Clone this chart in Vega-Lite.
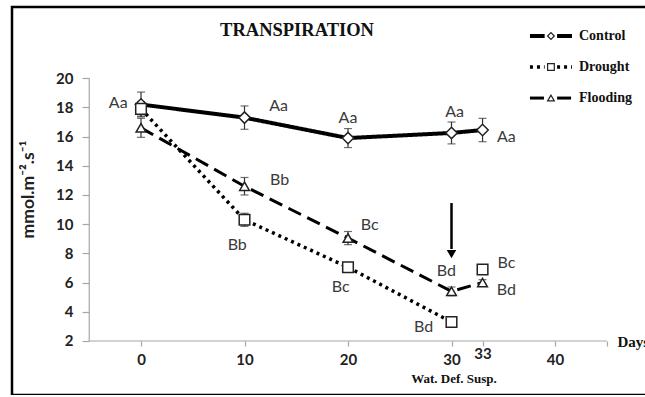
{
  "$schema": "https://vega.github.io/schema/vega-lite/v6.json",
  "width": 640,
  "height": 388,
  "autosize": {"type": "none"},
  "padding": {"left": 12, "top": 7, "right": 0, "bottom": 0},
  "background": "white",
  "config": {"view": {"stroke": "black", "strokeWidth": 2.5}},
  "title": {"text": "TRANSPIRATION", "font": "Liberation Serif", "fontWeight": "bold", "fontSize": 18.5, "color": "#111", "anchor": "middle", "baseline": "alphabetic", "offset": 0, "dx": -35, "dy": 47},
  "datasets": {
    "points": [
      {"series": "Control", "day": 0, "value": 18.2, "lo": 17.35, "hi": 19.05},
      {"series": "Control", "day": 10, "value": 17.3, "lo": 16.5, "hi": 18.1},
      {"series": "Control", "day": 20, "value": 15.9, "lo": 15.25, "hi": 16.55},
      {"series": "Control", "day": 30, "value": 16.25, "lo": 15.5, "hi": 17.0},
      {"series": "Control", "day": 33, "value": 16.45, "lo": 15.65, "hi": 17.25},
      {"series": "Drought", "day": 0, "value": 17.9, "lo": 17.4, "hi": 18.4},
      {"series": "Drought", "day": 10, "value": 10.3, "lo": 9.85, "hi": 10.75},
      {"series": "Drought", "day": 20, "value": 7.05, "lo": 6.85, "hi": 7.25},
      {"series": "Drought", "day": 30, "value": 3.3, "lo": 3.15, "hi": 3.45},
      {"series": "Drought", "day": 33, "value": 6.9, "lo": 6.8, "hi": 7.0},
      {"series": "Flooding", "day": 0, "value": 16.6, "lo": 15.95, "hi": 17.25},
      {"series": "Flooding", "day": 10, "value": 12.6, "lo": 12.0, "hi": 13.2},
      {"series": "Flooding", "day": 20, "value": 9.05, "lo": 8.6, "hi": 9.5},
      {"series": "Flooding", "day": 30, "value": 5.4, "lo": 5.1, "hi": 5.7},
      {"series": "Flooding", "day": 33, "value": 6.0, "lo": 5.8, "hi": 6.2}
    ],
    "labels": [
      {"text": "Aa", "day": -2.2, "value": 18.3},
      {"text": "Aa", "day": 13.3, "value": 18.1},
      {"text": "Aa", "day": 20, "value": 17.3},
      {"text": "Aa", "day": 30.3, "value": 17.7},
      {"text": "Aa", "day": 35.3, "value": 16.0},
      {"text": "Bb", "day": 9.3, "value": 8.6},
      {"text": "Bb", "day": 13.4, "value": 13.0},
      {"text": "Bc", "day": 22.1, "value": 9.95},
      {"text": "Bc", "day": 19.3, "value": 5.7},
      {"text": "Bd", "day": 29.5, "value": 6.8},
      {"text": "Bd", "day": 27.3, "value": 2.96},
      {"text": "Bc", "day": 35.3, "value": 7.35},
      {"text": "Bd", "day": 35.3, "value": 5.5}
    ],
    "axes": [
      {"day": -5, "value": 2, "day2": 45, "value2": 2},
      {"day": -5, "value": 2, "day2": -5, "value2": 20}
    ],
    "arrow": [{"day": 30, "value": 11.45, "value2": 8.3, "head": 7.95}],
    "legendLines": [
      {"series": "Control", "day": 37.58, "day2": 39.0, "value": 22.89},
      {"series": "Control", "day": 40.2, "day2": 41.64, "value": 22.89},
      {"series": "Drought", "day": 37.58, "day2": 39.0, "value": 20.77},
      {"series": "Drought", "day": 40.2, "day2": 41.64, "value": 20.77},
      {"series": "Flooding", "day": 37.58, "day2": 39.0, "value": 18.64},
      {"series": "Flooding", "day": 40.2, "day2": 41.64, "value": 18.64}
    ],
    "legendItems": [
      {"series": "Control", "day": 39.61, "tx": 42.32, "value": 22.89},
      {"series": "Drought", "day": 39.61, "tx": 42.32, "value": 20.77},
      {"series": "Flooding", "day": 39.61, "tx": 42.32, "value": 18.64}
    ],
    "notes": [{"text": "Wat. Def. Susp.", "day": 30.24, "value": -0.6}]
  },
  "layer": [
    {
      "data": {"name": "axes"},
      "mark": {"type": "rule", "color": "#a6a6a6", "strokeWidth": 1.2},
      "encoding": {
        "x": {"field": "day", "type": "quantitative",
          "scale": {"domain": [-12.464, 49.372], "nice": false, "zero": false},
          "axis": {"values": [0, 10, 20, 30, 33, 40, 45], "labelExpr": "datum.value === 45 ? '' : datum.label", "domain": false, "grid": false, "offset": -54, "tickSize": 5, "tickColor": "#a6a6a6", "tickWidth": 1.2,
            "labelPadding": {"condition": {"test": "datum.value === 33", "value": 0}, "value": 6},
            "labelFont": "Lato", "labelFontWeight": "bold", "labelFontSize": 15, "labelColor": "#222",
            "title": "Days", "titleFont": "Liberation Serif", "titleFontWeight": "bold", "titleFontSize": 15, "titleColor": "#111", "titleX": 605, "titleY": 0, "titleAlign": "left", "titleBaseline": "middle"}},
        "x2": {"field": "day2"},
        "y": {"field": "value", "type": "quantitative",
          "scale": {"domain": [-1.699, 24.877], "nice": false, "zero": false},
          "axis": {"values": [2, 4, 6, 8, 10, 12, 14, 16, 18, 20], "domain": false, "grid": false, "offset": -77, "tickSize": 7, "tickColor": "#a6a6a6", "tickWidth": 1.2, "labelPadding": 9,
            "labelFont": "Lato", "labelFontWeight": "bold", "labelFontSize": 15, "labelColor": "#222",
            "title": "mmol.m⁻².s⁻¹", "titleFont": "Lato", "titleFontWeight": "bold", "titleFontSize": 17.5, "titleColor": "#222", "titleX": -61, "titleY": 182, "titleAngle": -90, "titleAlign": "center", "titleBaseline": "middle"}},
        "y2": {"field": "value2"}
      }
    },
    {
      "data": {"name": "points"},
      "transform": [{"filter": "!(datum.series === 'Drought' && datum.day === 33)"}],
      "mark": {"type": "line", "color": "black", "strokeCap": "butt"},
      "encoding": {
        "x": {"field": "day", "type": "quantitative"},
        "y": {"field": "value", "type": "quantitative"},
        "strokeDash": {"field": "series", "type": "nominal", "scale": {"domain": ["Control", "Drought", "Flooding"], "range": [[1, 0], [3, 4], [14, 7]]}, "legend": null},
        "strokeWidth": {"field": "series", "type": "nominal", "scale": {"domain": ["Control", "Drought", "Flooding"], "range": [4, 3, 3.5]}, "legend": null}
      }
    },
    {
      "data": {"name": "points"},
      "mark": {"type": "rule", "color": "#333", "strokeWidth": 1.2},
      "encoding": {
        "x": {"field": "day", "type": "quantitative"},
        "y": {"field": "lo", "type": "quantitative"},
        "y2": {"field": "hi"}
      }
    },
    {
      "data": {"name": "points"},
      "mark": {"type": "tick", "orient": "horizontal", "color": "#333", "size": 8, "thickness": 1.2},
      "encoding": {
        "x": {"field": "day", "type": "quantitative"},
        "y": {"field": "lo", "type": "quantitative"}
      }
    },
    {
      "data": {"name": "points"},
      "mark": {"type": "tick", "orient": "horizontal", "color": "#333", "size": 8, "thickness": 1.2},
      "encoding": {
        "x": {"field": "day", "type": "quantitative"},
        "y": {"field": "hi", "type": "quantitative"}
      }
    },
    {
      "data": {"name": "points"},
      "mark": {"type": "point", "filled": true, "fill": "white", "stroke": "#222", "strokeWidth": 1.5, "opacity": 1},
      "encoding": {
        "x": {"field": "day", "type": "quantitative"},
        "y": {"field": "value", "type": "quantitative"},
        "shape": {"field": "series", "type": "nominal", "scale": {"domain": ["Control", "Drought", "Flooding"], "range": ["diamond", "square", "triangle-up"]}, "legend": null},
        "size": {"field": "series", "type": "nominal", "scale": {"domain": ["Control", "Drought", "Flooding"], "range": [130, 95, 110]}, "legend": null}
      }
    },
    {
      "data": {"name": "labels"},
      "mark": {"type": "text", "font": "Lato", "fontSize": 16, "color": "#3a3a3a", "align": "center", "baseline": "middle"},
      "encoding": {
        "x": {"field": "day", "type": "quantitative"},
        "y": {"field": "value", "type": "quantitative"},
        "text": {"field": "text"}
      }
    },
    {
      "data": {"name": "arrow"},
      "mark": {"type": "rule", "color": "black", "strokeWidth": 2.5},
      "encoding": {
        "x": {"field": "day", "type": "quantitative"},
        "y": {"field": "value", "type": "quantitative"},
        "y2": {"field": "value2"}
      }
    },
    {
      "data": {"name": "arrow"},
      "mark": {"type": "point", "shape": "triangle-down", "filled": true, "color": "black", "size": 90, "opacity": 1},
      "encoding": {
        "x": {"field": "day", "type": "quantitative"},
        "y": {"field": "head", "type": "quantitative"}
      }
    },
    {
      "data": {"name": "legendLines"},
      "mark": {"type": "rule", "color": "black", "strokeCap": "butt"},
      "encoding": {
        "x": {"field": "day", "type": "quantitative"},
        "x2": {"field": "day2"},
        "y": {"field": "value", "type": "quantitative"},
        "strokeDash": {"field": "series", "type": "nominal", "scale": {"domain": ["Control", "Drought", "Flooding"], "range": [[1, 0], [3, 4], [14, 7]]}, "legend": null},
        "strokeWidth": {"field": "series", "type": "nominal", "scale": {"domain": ["Control", "Drought", "Flooding"], "range": [4, 3, 3.5]}, "legend": null}
      }
    },
    {
      "data": {"name": "legendItems"},
      "mark": {"type": "point", "filled": true, "fill": "white", "stroke": "#222", "strokeWidth": 1.2, "opacity": 1, "size": 45},
      "encoding": {
        "x": {"field": "day", "type": "quantitative"},
        "y": {"field": "value", "type": "quantitative"},
        "shape": {"field": "series", "type": "nominal", "scale": {"domain": ["Control", "Drought", "Flooding"], "range": ["diamond", "square", "triangle-up"]}, "legend": null}
      }
    },
    {
      "data": {"name": "legendItems"},
      "mark": {"type": "text", "font": "Liberation Serif", "fontWeight": "bold", "fontSize": 14, "color": "#111", "align": "left", "baseline": "middle"},
      "encoding": {
        "x": {"field": "tx", "type": "quantitative"},
        "y": {"field": "value", "type": "quantitative"},
        "text": {"field": "series"}
      }
    },
    {
      "data": {"name": "notes"},
      "mark": {"type": "text", "font": "Liberation Serif", "fontWeight": "bold", "fontSize": 13, "color": "#111", "align": "center", "baseline": "middle"},
      "encoding": {
        "x": {"field": "day", "type": "quantitative"},
        "y": {"field": "value", "type": "quantitative"},
        "text": {"field": "text"}
      }
    }
  ]
}
